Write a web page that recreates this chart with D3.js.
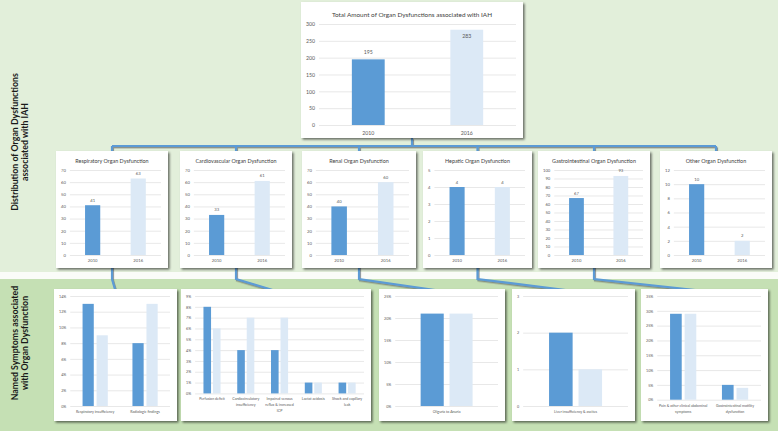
<!DOCTYPE html>
<html>
<head>
<meta charset="utf-8">
<script src="https://cdn.jsdelivr.net/npm/d3@7"></script>
<style>
  body { margin: 0; background: #fff; }
  text { font-family: Lato, "Open Sans", sans-serif; }
</style>
</head>
<body>
<svg id="canvas" width="778" height="431"></svg>
<script>
// ---- data ----
const years = ['2010', '2016'];

const totalTitle = 'Total Amount of Organ Dysfunctions associated with IAH';
const totalValues = [195, 283];
const totalTicks = [0, 50, 100, 150, 200, 250, 300];

const organTitles = [
  'Respiratory Organ Dysfunction',
  'Cardiovascular Organ Dysfunction',
  'Renal Organ Dysfunction',
  'Hepatic Organ Dysfunction',
  'Gastrointestinal Organ Dysfunction',
  'Other Organ Dysfunction'
];
const organValues = [[41, 63], [33, 61], [40, 60], [4, 4], [67, 93], [10, 2]];
const organTicks = [
  [0, 10, 20, 30, 40, 50, 60, 70],
  [0, 10, 20, 30, 40, 50, 60, 70],
  [0, 10, 20, 30, 40, 50, 60, 70],
  [0, 1, 2, 3, 4, 5],
  [0, 10, 20, 30, 40, 50, 60, 70, 80, 90, 100],
  [0, 2, 4, 6, 8, 10, 12]
];

const symptomNames = [
  ['Respiratory insufficiency', 'Radiologic findings'],
  ['Perfusion deficit', 'Cardiocirculatory insufficiency', 'Impaired venous reflux & increased ICP', 'Lactat acidosis', 'Shock and capillary leak'],
  ['Oliguria to Anuria'],
  ['Liver insufficiency & ascites'],
  ['Pain & other clinical abdominal symptoms', 'Gastrointestinal motility dysfunction']
];
const symptoms2010 = [[13, 8], [8, 4, 4, 1, 1], [21], [2], [29, 5]];
const symptoms2016 = [[9, 13], [6, 7, 7, 1, 1], [21], [1], [29, 4]];
const symptomTicks = [
  [0, 2, 4, 6, 8, 10, 12, 14],
  [0, 1, 2, 3, 4, 5, 6, 7, 8, 9],
  [0, 5, 10, 15, 20, 25],
  [0, 1, 2, 3],
  [0, 5, 10, 15, 20, 25, 30, 35]
];
const symptomUnits = ['%', '%', '%', '', '%'];

const sideLabels = [
  ['Distribution of Organ Dysfunctions', 'associated with IAH'],
  ['Named Symptoms associated', 'with Organ Dysfunction']
];

// ---- layout ----
const colors = ['#5b9bd5', '#dce9f6'];
const textCol = '#595959';
const gridCol = '#d9d9d9';

const topBox = [301, 2, 222, 136];
const organBoxes = [[56, 151, 112, 117], [180, 151, 112, 117], [302, 151, 114, 117],
                    [423, 151, 109, 117], [538, 151, 112, 117], [660, 151, 112, 117]];
const symptomBoxes = [[54, 289, 123, 132], [181, 289, 190, 132], [379, 289, 126, 132],
                      [512, 289, 123, 132], [641, 289, 127, 132]];

const svg = d3.select('#canvas');
const defs = svg.append('defs');
defs.append('filter').attr('id', 'shadow')
    .attr('x', '-10%').attr('y', '-10%').attr('width', '125%').attr('height', '125%')
  .append('feDropShadow')
    .attr('dx', 1.6).attr('dy', 1.6).attr('stdDeviation', 1)
    .attr('flood-color', '#000').attr('flood-opacity', 0.55);
defs.append('filter').attr('id', 'lineShadow')
    .attr('x', '-10%').attr('y', '-50%').attr('width', '130%').attr('height', '300%')
  .append('feDropShadow')
    .attr('dx', 1).attr('dy', 1.4).attr('stdDeviation', 0.7)
    .attr('flood-color', '#555').attr('flood-opacity', 0.6);

// backgrounds
svg.append('rect').attr('x', 0).attr('y', 0).attr('width', 778).attr('height', 272).attr('fill', '#e2efda');
svg.append('rect').attr('x', 0).attr('y', 272).attr('width', 778).attr('height', 7).attr('fill', '#fafcf8');
svg.append('rect').attr('x', 0).attr('y', 279).attr('width', 778).attr('height', 152).attr('fill', '#c5e0b4');

// side labels
[142, 343].forEach((cy, k) => {
  const t = svg.append('text')
      .attr('transform', `translate(0,${cy}) rotate(-90)`)
      .attr('text-anchor', 'middle')
      .attr('font-weight', 700)
      .attr('font-size', 8.8)
      .attr('fill', '#1a1a1a');
  sideLabels[k].forEach((line, i) => {
    t.append('tspan').attr('x', 0).attr('y', 18 + i * 10).text(line);
  });
});

// connectors (drawn under the panels)
const centre = b => b[0] + b[2] / 2;
const conn = svg.append('g').attr('fill', 'none').attr('stroke', colors[0])
    .attr('stroke-width', 2.2).attr('filter', 'url(#lineShadow)');
const busY = 146;
const tc = centre(topBox);
conn.append('path').attr('d', `M${tc},${topBox[1] + topBox[3]}V${busY}`);
conn.append('path').attr('d', `M${centre(organBoxes[0])},${busY}H${centre(organBoxes[5])}`);
organBoxes.forEach(b => {
  conn.append('path').attr('d', `M${centre(b)},${busY}V${b[1] + 2}`);
});
symptomBoxes.forEach((b, i) => {
  const ob = organBoxes[i];
  const x0 = centre(ob);
  const line = d3.line();
  conn.append('path').attr('d', line([[x0, ob[1] + ob[3] - 2], [x0, 279], [centre(b), b[1] + 2]]));
});

// ---- helpers ----
function measure(str, size) {
  const t = svg.append('text').attr('font-size', size).text(str);
  const w = t.node().getComputedTextLength();
  t.remove();
  return w;
}

function panel(b) {
  const g = svg.append('g');
  g.append('rect').attr('x', b[0]).attr('y', b[1]).attr('width', b[2]).attr('height', b[3])
    .attr('fill', '#fff').attr('filter', 'url(#shadow)');
  return g;
}

function styleAxis(a, size) {
  a.attr('font-family', null).attr('font-size', size);
  a.select('.domain').remove();
  a.selectAll('line').attr('stroke', gridCol).attr('stroke-width', 0.6);
  a.selectAll('text').attr('fill', textCol);
}

function wrap(text, width, lh) {
  text.each(function () {
    const t = d3.select(this);
    const words = t.text().split(/\s+/).reverse();
    const y0 = t.attr('y');
    let line = [], n = 0, word;
    let tspan = t.text(null).append('tspan').attr('x', 0).attr('y', y0).attr('dy', '0.71em');
    while ((word = words.pop())) {
      line.push(word);
      tspan.text(line.join(' '));
      if (tspan.node().getComputedTextLength() > width && line.length > 1) {
        line.pop();
        tspan.text(line.join(' '));
        line = [word];
        n++;
        tspan = t.append('tspan').attr('x', 0).attr('y', +y0 + n * lh).attr('dy', '0.71em').text(word);
      }
    }
  });
}

// chart with one bar per year (top + middle rows)
function yearChart(b, title, values, ticks, s) {
  const g = panel(b);
  g.append('text').attr('x', b[0] + b[2] / 2).attr('y', b[1] + s.titleY)
    .attr('text-anchor', 'middle').attr('font-size', s.titleSize).attr('fill', '#404040')
    .text(title);

  const labW = d3.max(ticks, t => measure(String(t), s.tickSize));
  const gx0 = b[0] + 5 + labW + 4, gx1 = b[0] + b[2] - 7;
  const y = d3.scaleLinear().domain([0, d3.max(ticks)]).range([b[1] + s.plotBottom, b[1] + s.plotTop]);
  const x = d3.scaleBand().domain(years).range([gx0, gx1]).paddingInner(2 / 3).paddingOuter(1 / 3);

  g.append('g').attr('transform', `translate(${gx0},0)`)
    .call(d3.axisLeft(y).tickValues(ticks).tickFormat(d => String(d)).tickSize(-(gx1 - gx0)).tickPadding(4))
    .call(a => styleAxis(a, s.tickSize));

  g.append('g').attr('transform', `translate(0,${y(0)})`)
    .call(d3.axisBottom(x).tickSize(0).tickPadding(s.xPad))
    .call(a => styleAxis(a, s.tickSize));

  g.selectAll('.bar').data(values).join('rect')
    .attr('x', (d, i) => x(years[i])).attr('y', d => y(d))
    .attr('width', x.bandwidth()).attr('height', d => y(0) - y(d))
    .attr('fill', (d, i) => colors[i]);

  g.selectAll('.val').data(values).join('text')
    .attr('x', (d, i) => x(years[i]) + x.bandwidth() / 2)
    .attr('y', d => {
      const above = y(d) - s.valGap;
      return above - s.tickSize < y.range()[1] - 4 ? y(d) + s.tickSize + 3 : above;
    })
    .attr('text-anchor', 'middle').attr('font-size', s.tickSize).attr('fill', textCol)
    .text(d => d);
}

// clustered chart, 2010 vs 2016 per symptom (bottom row)
function symptomChart(b, names, v10, v16, ticks, unit) {
  const g = panel(b);
  const tickSize = 3.7, labSize = 3.6, lh = 5.8;
  const fmt = d => d + unit;

  const labW = d3.max(ticks, t => measure(fmt(t), tickSize));
  const gx0 = b[0] + 5 + labW + 4, gx1 = b[0] + b[2] - 7;
  const x = d3.scaleBand().domain(names).range([gx0, gx1]);
  const xi = d3.scaleBand().domain(years).range([0, x.bandwidth()]).paddingInner(0.2).paddingOuter(0.88);

  const xa = g.append('g')
    .call(d3.axisBottom(x).tickSize(0).tickPadding(4.5))
    .call(a => styleAxis(a, labSize));
  xa.selectAll('.tick text').call(wrap, x.bandwidth() * 0.95, lh);
  const lines = d3.max(xa.selectAll('.tick text').nodes(), n => n.childNodes.length);

  const yBottom = b[1] + b[3] - 15 - (lines - 1) * 6.3;
  const y = d3.scaleLinear().domain([0, d3.max(ticks)]).range([yBottom, b[1] + 7]);
  xa.attr('transform', `translate(0,${yBottom})`);

  g.insert('g', ':nth-child(2)').attr('transform', `translate(${gx0},0)`)
    .call(d3.axisLeft(y).tickValues(ticks).tickFormat(fmt).tickSize(-(gx1 - gx0)).tickPadding(4))
    .call(a => styleAxis(a, tickSize));

  const series = [v10, v16];
  series.forEach((vals, k) => {
    g.selectAll('.s' + k).data(vals).join('rect')
      .attr('x', (d, i) => x(names[i]) + xi(years[k]))
      .attr('y', d => y(d))
      .attr('width', xi.bandwidth())
      .attr('height', d => y(0) - y(d))
      .attr('fill', colors[k]);
  });
}

// ---- draw ----
yearChart(topBox, totalTitle, totalValues, totalTicks,
  { titleY: 14.5, titleSize: 6.4, tickSize: 5.2, plotTop: 22, plotBottom: 123, xPad: 6.5, valGap: 5 });

organBoxes.forEach((b, i) => {
  yearChart(b, organTitles[i], organValues[i], organTicks[i],
    { titleY: 11.5, titleSize: 5.4, tickSize: 4.2, plotTop: 19, plotBottom: 104, xPad: 4.5, valGap: 3.5 });
});

symptomBoxes.forEach((b, i) => {
  symptomChart(b, symptomNames[i], symptoms2010[i], symptoms2016[i], symptomTicks[i], symptomUnits[i]);
});
</script>
</body>
</html>
